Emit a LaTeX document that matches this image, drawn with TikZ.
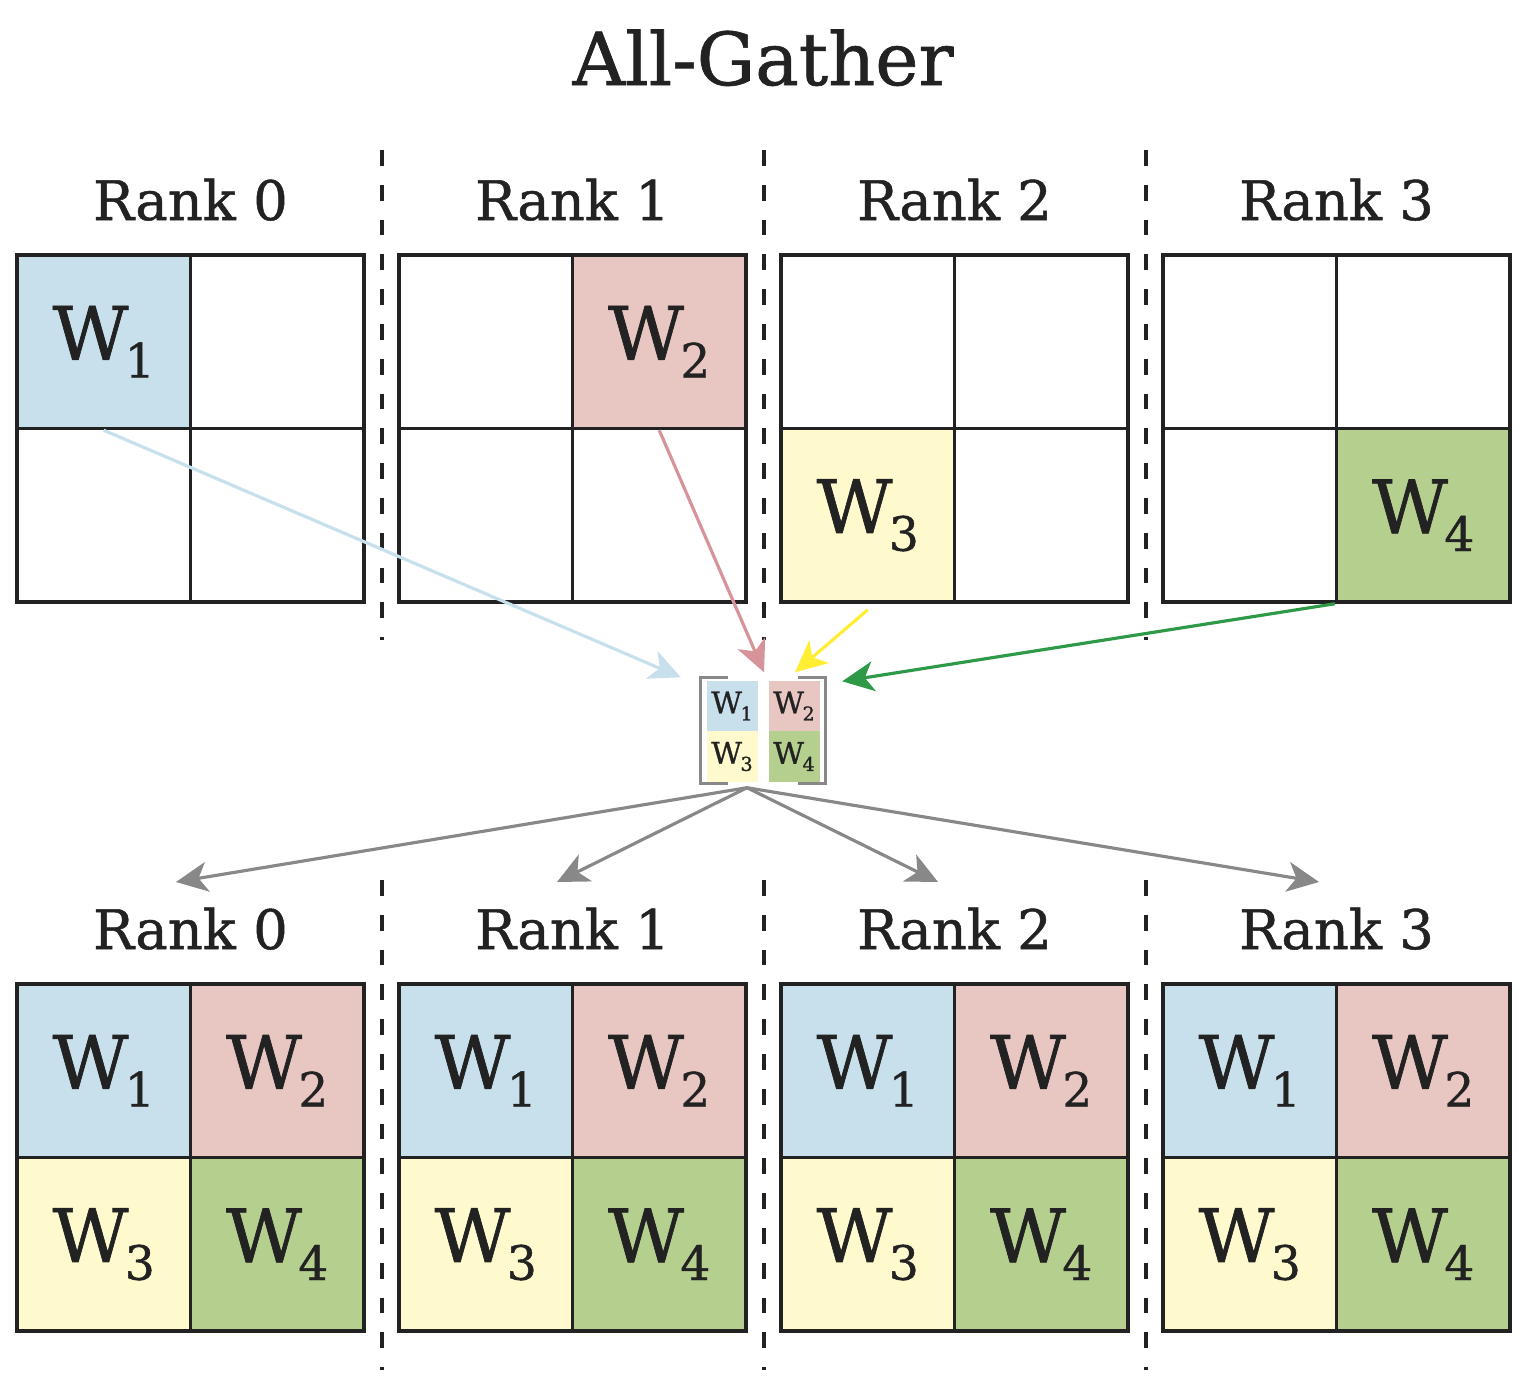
\documentclass[tikz,border=0pt]{standalone}
\usepackage{fontspec}
\setmainfont{DejaVu Serif}[BoldFont=DejaVu Serif, BoldFeatures={FakeBold=0.9}]
\usepackage{graphicx}
\usetikzlibrary{arrows.meta}
\definecolor{ink}{HTML}{222222}
\definecolor{wone}{HTML}{C7E0EC}
\definecolor{wtwo}{HTML}{E8C6C2}
\definecolor{wthree}{HTML}{FEFACD}
\definecolor{wfour}{HTML}{B5CF8E}
\definecolor{pinkline}{HTML}{D6939A}
\definecolor{yellowline}{HTML}{FFEE33}
\definecolor{greenline}{HTML}{2E9A48}
\definecolor{grayline}{HTML}{888888}
\newcommand{\wsub}[1]{W\kern-0.05em\raisebox{-0.24em}{\scalebox{0.64}{#1}}}
\begin{document}
\begin{tikzpicture}[
  cell/.style={draw=ink, line width=1pt, minimum size=1.735cm, inner sep=0pt, text=ink, font=\fontsize{21}{21}\selectfont\bfseries},
  mini/.style={minimum size=0.51cm, inner sep=0pt, text=ink, font=\fontsize{8.5}{8.5}\selectfont\bfseries},
  rank/.style={text=ink, anchor=base, font=\fontsize{15.5}{15.5}\selectfont\bfseries},
  sep/.style={ink, line width=0.9pt, dash pattern=on 4.5pt off 5.4pt},
  flow/.style={line width=0.9pt, -{Stealth[length=9pt,width=8.5pt,inset=2.5pt]}},
  bracket/.style={grayline, line width=0.9pt}]
\useasboundingbox (0,0) rectangle (15.27,-13.88);
\node[rank, font=\fontsize{20.8}{20.8}\selectfont\bfseries] (title) at (7.63,-0.85) {All-Gather};
% separators
\draw[sep] (3.82,-1.50) -- (3.82,-6.40);
\draw[sep] (7.64,-1.50) -- (7.64,-6.40);
\draw[sep] (11.46,-1.50) -- (11.46,-6.40);
\draw[sep] (3.82,-8.80) -- (3.82,-13.70);
\draw[sep] (7.64,-8.80) -- (7.64,-13.70);
\draw[sep] (11.46,-8.80) -- (11.46,-13.70);
% before
\node[rank] (rt0) at (1.905,-2.20) {Rank 0};
\node[rank] (rt1) at (5.725,-2.20) {Rank 1};
\node[rank] (rt2) at (9.545,-2.20) {Rank 2};
\node[rank] (rt3) at (13.365,-2.20) {Rank 3};
\node[cell,fill=wone] (t0a) at (1.0375,-3.4175) {\wsub{1}};
\node[cell] (t0b) at (2.7725,-3.4175) {};
\node[cell] (t0c) at (1.0375,-5.1525) {};
\node[cell] (t0d) at (2.7725,-5.1525) {};
\node[cell] (t1a) at (4.8575,-3.4175) {};
\node[cell,fill=wtwo] (t1b) at (6.5925,-3.4175) {\wsub{2}};
\node[cell] (t1c) at (4.8575,-5.1525) {};
\node[cell] (t1d) at (6.5925,-5.1525) {};
\node[cell] (t2a) at (8.6775,-3.4175) {};
\node[cell] (t2b) at (10.4125,-3.4175) {};
\node[cell,fill=wthree] (t2c) at (8.6775,-5.1525) {\wsub{3}};
\node[cell] (t2d) at (10.4125,-5.1525) {};
\node[cell] (t3a) at (12.4975,-3.4175) {};
\node[cell] (t3b) at (14.2325,-3.4175) {};
\node[cell] (t3c) at (12.4975,-5.1525) {};
\node[cell,fill=wfour] (t3d) at (14.2325,-5.1525) {\wsub{4}};
% gathered block
\node[minimum width=1.23cm, minimum height=1.05cm, inner sep=0pt] (mid) at (7.63,-7.305) {};
\node[mini,fill=wone] (m1) at (7.32,-7.06) {\wsub{1}};
\node[mini,fill=wtwo] (m2) at (7.94,-7.06) {\wsub{2}};
\node[mini,fill=wthree] (m3) at (7.32,-7.565) {\wsub{3}};
\node[mini,fill=wfour] (m4) at (7.94,-7.565) {\wsub{4}};
\draw[bracket] ([xshift=0.27cm]mid.north west) -| (mid.south west) -- ++(0.27,0);
\draw[bracket] ([xshift=-0.27cm]mid.north east) -| (mid.south east) -- ++(-0.27,0);
\draw[flow,wone] (t0a.south) -- ([xshift=-0.2cm]mid.north west);
\draw[flow,pinkline] (t1b.south) -- ([xshift=0.01cm,yshift=0.05cm]mid.north);
\draw[flow,yellowline] ([yshift=-0.06cm]t2c.south) -- ([xshift=0.32cm,yshift=0.05cm]mid.north);
\draw[flow,greenline] (t3d.south west) -- ([xshift=0.17cm,yshift=-0.04cm]mid.north east);
% scatter back
\coordinate (hub) at ([xshift=-0.16cm,yshift=-0.04cm]mid.south);
\coordinate (g0) at (1.76,-8.82);
\coordinate (g1) at (5.57,-8.82);
\coordinate (g2) at (9.38,-8.82);
\coordinate (g3) at (13.19,-8.82);
\draw[flow,grayline] (hub) -- (g0);
\draw[flow,grayline] (hub) -- (g1);
\draw[flow,grayline] (hub) -- (g2);
\draw[flow,grayline] (hub) -- (g3);
% after
\node[rank] (rb0) at (1.905,-9.49) {Rank 0};
\node[rank] (rb1) at (5.725,-9.49) {Rank 1};
\node[rank] (rb2) at (9.545,-9.49) {Rank 2};
\node[rank] (rb3) at (13.365,-9.49) {Rank 3};
\node[cell,fill=wone] (b0a) at (1.0375,-10.7075) {\wsub{1}};
\node[cell,fill=wtwo] (b0b) at (2.7725,-10.7075) {\wsub{2}};
\node[cell,fill=wthree] (b0c) at (1.0375,-12.4425) {\wsub{3}};
\node[cell,fill=wfour] (b0d) at (2.7725,-12.4425) {\wsub{4}};
\node[cell,fill=wone] (b1a) at (4.8575,-10.7075) {\wsub{1}};
\node[cell,fill=wtwo] (b1b) at (6.5925,-10.7075) {\wsub{2}};
\node[cell,fill=wthree] (b1c) at (4.8575,-12.4425) {\wsub{3}};
\node[cell,fill=wfour] (b1d) at (6.5925,-12.4425) {\wsub{4}};
\node[cell,fill=wone] (b2a) at (8.6775,-10.7075) {\wsub{1}};
\node[cell,fill=wtwo] (b2b) at (10.4125,-10.7075) {\wsub{2}};
\node[cell,fill=wthree] (b2c) at (8.6775,-12.4425) {\wsub{3}};
\node[cell,fill=wfour] (b2d) at (10.4125,-12.4425) {\wsub{4}};
\node[cell,fill=wone] (b3a) at (12.4975,-10.7075) {\wsub{1}};
\node[cell,fill=wtwo] (b3b) at (14.2325,-10.7075) {\wsub{2}};
\node[cell,fill=wthree] (b3c) at (12.4975,-12.4425) {\wsub{3}};
\node[cell,fill=wfour] (b3d) at (14.2325,-12.4425) {\wsub{4}};
\end{tikzpicture}
\end{document}
